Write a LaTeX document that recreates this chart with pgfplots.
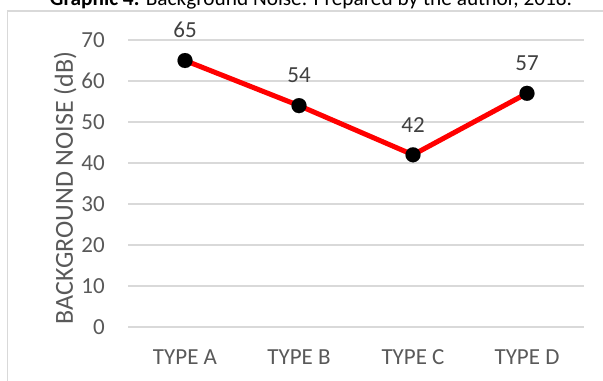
\documentclass[border=0pt]{standalone}
\usepackage{fontspec}
\setmainfont{Carlito}
\usepackage{pgfplots}
\pgfplotsset{compat=1.18}

\definecolor{gridgray}{HTML}{D9D9D9}
\definecolor{labelgray}{HTML}{595959}
\definecolor{datagray}{HTML}{404040}

\begin{document}
\begin{tikzpicture}
\useasboundingbox (0,0) rectangle (603bp,381bp);
\clip (0,0) rectangle (603bp,381bp);
% chart frame
\draw[gridgray, line width=1.2bp] (7.5bp,-5bp) -- (7.5bp,370bp) -- (610bp,370bp);
% caption
\node[anchor=base, inner sep=0pt, font=\fontsize{21.3bp}{25bp}\selectfont] at (311bp,375bp)
  {\textbf{Graphic 4.} Background Noise. Prepared by the author, 2018.};
\begin{axis}[
  at={(128bp,54bp)}, anchor=south west,
  scale only axis, width=456bp, height=287bp,
  xmin=-0.5, xmax=3.5, ymin=0, ymax=70,
  xtick={0,1,2,3}, xticklabels={TYPE A,TYPE B,TYPE C,TYPE D},
  ytick={0,10,...,70},
  axis line style={draw=none},
  major tick length=0pt,
  ymajorgrids, grid style={gridgray, line width=1.2bp},
  /pgf/number format/assume math mode=true,
  tick label style={font=\fontsize{23bp}{27bp}\selectfont, text=labelgray, inner sep=0pt},
  yticklabel style={anchor=east, xshift=-23bp},
  xticklabel style={anchor=center, yshift=-30bp},
  ylabel={BACKGROUND NOISE (dB)},
  ylabel style={at={(axis description cs:-0.138,0.485)}, anchor=center,
    font=\fontsize{26bp}{30bp}\selectfont, text=labelgray, inner sep=0pt},
  clip=false,
  nodes near coords,
  every node near coord/.append style={font=\fontsize{23bp}{27bp}\selectfont,
    text=datagray, inner sep=0pt, anchor=south, yshift=22.5bp},
]
\addplot[red, line width=5bp, mark=*, mark size=7.5bp,
  mark options={solid, fill=black, draw=black, line width=0.1bp}]
  coordinates {(0,65) (1,54) (2,42) (3,57)};
\end{axis}
\end{tikzpicture}
\end{document}
